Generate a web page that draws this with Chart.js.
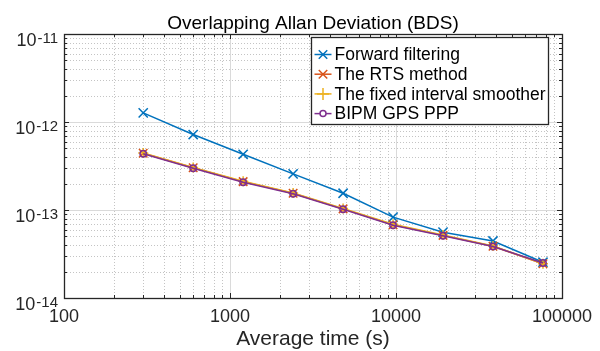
<!DOCTYPE html>
<html>
<head>
<meta charset="utf-8">
<script src="https://cdn.jsdelivr.net/npm/chart.js@4/dist/chart.umd.min.js"></script>
<style>
  html, body { margin: 0; padding: 0; background: #fff; }
</style>
</head>
<body>
<canvas id="chart" width="600" height="351"></canvas>
<script>
// averaging times (s)
const tau = [300, 600, 1200, 2400, 4800, 9600, 19200, 38400, 76800];

// overlapping Allan deviation per series
const forwardFiltering = [1.27e-12, 7.2e-13, 4.3e-13, 2.57e-13, 1.55e-13, 8.3e-14, 5.6e-14, 4.45e-14, 2.55e-14];
const rtsMethod = [4.42e-13, 3.02e-13, 2.1e-13, 1.55e-13, 1.03e-13, 6.8e-14, 5.15e-14, 3.88e-14, 2.45e-14];
const fixedInterval = [4.45e-13, 3.05e-13, 2.12e-13, 1.56e-13, 1.04e-13, 6.9e-14, 5.2e-14, 3.9e-14, 2.45e-14];
const bipmGpsPpp = [4.35e-13, 2.98e-13, 2.07e-13, 1.53e-13, 1.02e-13, 6.7e-14, 5.1e-14, 3.85e-14, 2.5e-14];

const seriesNames = ['Forward filtering', 'The RTS method', 'The fixed interval smoother', 'BIPM GPS PPP'];

const xTickValues = [100, 1000, 10000, 100000];
const yTickExponents = [-11, -12, -13, -14];

const titleText = 'Overlapping Allan Deviation (BDS)';
const xAxisLabel = 'Average time (s)';

const FONT = '"Liberation Sans", Arial, Helvetica, sans-serif';
const AXIS = '#262626';

function line(ctx, x1, y1, x2, y2) {
  ctx.beginPath();
  ctx.moveTo(x1, y1);
  ctx.lineTo(x2, y2);
  ctx.stroke();
}

// minor tick / grid values between the decades
function minorValues(lo, hi) {
  const out = [];
  for (let e = lo; e < hi; e++) {
    for (let m = 2; m <= 9; m++) out.push(m * Math.pow(10, e));
  }
  return out;
}

const matlabAxes = {
  id: 'matlabAxes',
  beforeDatasetsDraw(chart) {
    const { ctx, chartArea: a, scales: { x, y } } = chart;
    const xMinor = minorValues(2, 5);
    const yMinor = minorValues(-14, -11);
    ctx.save();
    ctx.lineWidth = 1;

    // minor grid (dotted)
    ctx.strokeStyle = '#c4c4c4';
    ctx.setLineDash([1, 2]);
    xMinor.forEach(v => {
      const px = Math.round(x.getPixelForValue(v)) + 0.5;
      line(ctx, px, a.top, px, a.bottom);
    });
    yMinor.forEach(v => {
      const py = Math.round(y.getPixelForValue(v)) + 0.5;
      line(ctx, a.left, py, a.right, py);
    });

    // major grid (solid, light)
    ctx.setLineDash([]);
    ctx.strokeStyle = '#dadada';
    xTickValues.forEach(v => {
      const px = Math.round(x.getPixelForValue(v)) + 0.5;
      line(ctx, px, a.top, px, a.bottom);
    });
    yTickExponents.forEach(e => {
      const py = Math.round(y.getPixelForValue(Math.pow(10, e))) + 0.5;
      line(ctx, a.left, py, a.right, py);
    });
    ctx.restore();
  },

  afterDatasetsDraw(chart) {
    const { ctx, chartArea: a, scales: { x, y } } = chart;
    const xMinor = minorValues(2, 5);
    const yMinor = minorValues(-14, -11);
    ctx.save();
    ctx.strokeStyle = AXIS;
    ctx.lineWidth = 1;

    // inward ticks on all four sides
    const tickX = (v, len) => {
      const px = Math.round(x.getPixelForValue(v)) + 0.5;
      line(ctx, px, a.bottom, px, a.bottom - len);
      line(ctx, px, a.top, px, a.top + len);
    };
    const tickY = (v, len) => {
      const py = Math.round(y.getPixelForValue(v)) + 0.5;
      line(ctx, a.left, py, a.left + len, py);
      line(ctx, a.right, py, a.right - len, py);
    };
    xMinor.forEach(v => tickX(v, 3));
    yMinor.forEach(v => tickY(v, 3));
    xTickValues.forEach(v => tickX(v, 5));
    yTickExponents.forEach(e => tickY(Math.pow(10, e), 5));

    // axes box
    ctx.lineWidth = 1.3;
    ctx.strokeRect(Math.round(a.left) + 0.5, Math.round(a.top) + 0.5,
      Math.round(a.right - a.left), Math.round(a.bottom - a.top));

    // legend
    const bx = Math.round(a.right) - 250.5, by = Math.round(a.top) + 3.5, bw = 237, bh = 87;
    ctx.fillStyle = '#fff';
    ctx.fillRect(bx, by, bw, bh);
    ctx.lineWidth = 1.3;
    ctx.strokeStyle = AXIS;
    ctx.strokeRect(bx, by, bw, bh);
    ctx.font = '17.5px ' + FONT;
    ctx.textBaseline = 'middle';
    ctx.textAlign = 'left';
    chart.data.datasets.forEach((ds, i) => {
      const cy = by + 17 + i * 19.7;
      ctx.strokeStyle = ds.borderColor;
      ctx.lineWidth = 1.5;
      line(ctx, bx + 3, cy, bx + 20, cy);
      ctx.fillStyle = '#fff';
      Chart.helpers.drawPoint(ctx, {
        pointStyle: ds.pointStyle,
        radius: ds.legendRadius,
        rotation: 0,
        borderWidth: 1.5
      }, bx + 11.5, cy);
      ctx.fillStyle = '#000';
      ctx.fillText(ds.label, bx + 23, cy + 1);
    });
    ctx.restore();
  },

  afterDraw(chart) {
    const { ctx, chartArea: a, scales: { x, y } } = chart;
    ctx.save();
    ctx.fillStyle = AXIS;

    // x tick labels
    ctx.font = '18px ' + FONT;
    ctx.textAlign = 'center';
    ctx.textBaseline = 'alphabetic';
    xTickValues.forEach(v => {
      ctx.fillText(String(v), x.getPixelForValue(v), a.bottom + 24);
    });

    // y tick labels: 10 with superscript exponent
    yTickExponents.forEach(e => {
      const py = y.getPixelForValue(Math.pow(10, e));
      ctx.font = '15px ' + FONT;
      const exp = '-' + Math.abs(e);
      const ew = ctx.measureText(exp).width;
      ctx.textAlign = 'left';
      const right = a.left - 6;
      ctx.fillText(exp, right - ew, py + 9);
      ctx.font = '18px ' + FONT;
      ctx.textAlign = 'right';
      ctx.fillText('10', right - ew - 1, py + 12);
    });

    // axis label
    ctx.font = '21px ' + FONT;
    ctx.textAlign = 'center';
    ctx.fillText(xAxisLabel, (a.left + a.right) / 2, a.bottom + 47);

    // title
    ctx.fillStyle = '#000';
    ctx.font = '19px ' + FONT;
    ctx.fillText(titleText, (a.left + a.right) / 2, a.top - 5);
    ctx.restore();
  }
};

const colors = ['#0072BD', '#D95319', '#EDB120', '#7E2F8E'];
const styles = [
  { pointStyle: 'crossRot', radius: 6.5, legendRadius: 6 },
  { pointStyle: 'crossRot', radius: 6, legendRadius: 6 },
  { pointStyle: 'cross', radius: 5, legendRadius: 6 },
  { pointStyle: 'circle', radius: 3.2, legendRadius: 3 }
];
const seriesValues = [forwardFiltering, rtsMethod, fixedInterval, bipmGpsPpp];

const datasets = seriesValues.map((vals, i) => ({
  label: seriesNames[i],
  data: tau.map((t, j) => ({ x: t, y: vals[j] })),
  borderColor: colors[i],
  backgroundColor: colors[i],
  borderWidth: 1.5,
  pointStyle: styles[i].pointStyle,
  pointRadius: styles[i].radius,
  legendRadius: styles[i].legendRadius,
  pointBorderColor: colors[i],
  pointBackgroundColor: 'rgba(0,0,0,0)',
  pointBorderWidth: 1.5,
  tension: 0,
  order: seriesValues.length - i
}));

new Chart(document.getElementById('chart'), {
  type: 'line',
  data: { datasets },
  options: {
    responsive: false,
    animation: false,
    devicePixelRatio: 1,
    layout: { padding: { top: 34, right: 38, left: 0, bottom: 0 } },
    plugins: {
      legend: { display: false },
      title: { display: false },
      tooltip: { enabled: false }
    },
    scales: {
      x: {
        type: 'logarithmic',
        min: 100,
        max: 100000,
        grid: { display: false },
        border: { display: false },
        ticks: { display: false },
        afterFit(scale) { scale.height = 53; }
      },
      y: {
        type: 'logarithmic',
        min: 1e-14,
        max: 1e-11,
        grid: { display: false },
        border: { display: false },
        ticks: { display: false },
        afterFit(scale) { scale.width = 64; }
      }
    }
  },
  plugins: [matlabAxes]
});
</script>
</body>
</html>
